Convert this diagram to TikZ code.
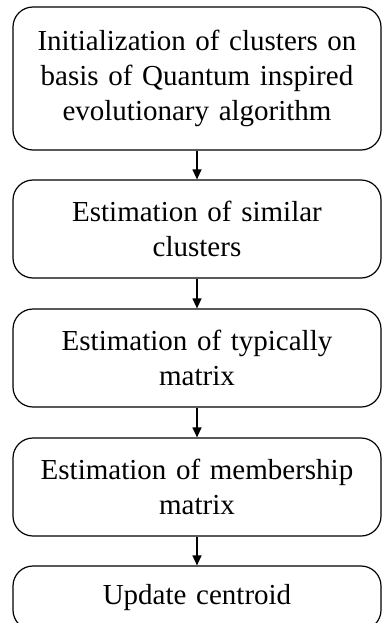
\documentclass[tikz,border=0pt]{standalone}
\usepackage{fontspec}
\setmainfont{Liberation Serif}
\usepackage{tikz}
\usetikzlibrary{positioning,arrows.meta}

\begin{document}
\begin{tikzpicture}[
    x=1pt, y=1pt,
    stepbox/.style={draw, line width=1.2pt, rounded corners=20pt, minimum width=368pt, text width=350pt, align=center, inner sep=0pt, font=\fontsize{29}{35}\selectfont},
    arr/.style={-{Triangle[width=9pt,length=10pt]}, line width=1.2pt}
  ]
  \useasboundingbox (0,0) rectangle (383,-623);
  \clip (0,0) rectangle (383,-623);
  \node[stepbox, minimum height=143pt] (init) at (197,-78.5) {Initialization of clusters on\\basis of Quantum inspired\\evolutionary algorithm};
  \node[stepbox, minimum height=98pt] (similar) at (197,-229) {Estimation of similar\\clusters};
  \node[stepbox, minimum height=98pt] (typical) at (197,-358) {Estimation of typically\\matrix};
  \node[stepbox, minimum height=98pt] (member) at (197,-487) {Estimation of membership\\matrix};
  \node[stepbox, minimum height=64pt] (centroid) at (197,-598) {Update centroid};

  \draw[arr] (init)--(similar);
  \draw[arr] (similar)--(typical);
  \draw[arr] (typical)--(member);
  \draw[arr] (member)--(centroid);
\end{tikzpicture}
\end{document}
